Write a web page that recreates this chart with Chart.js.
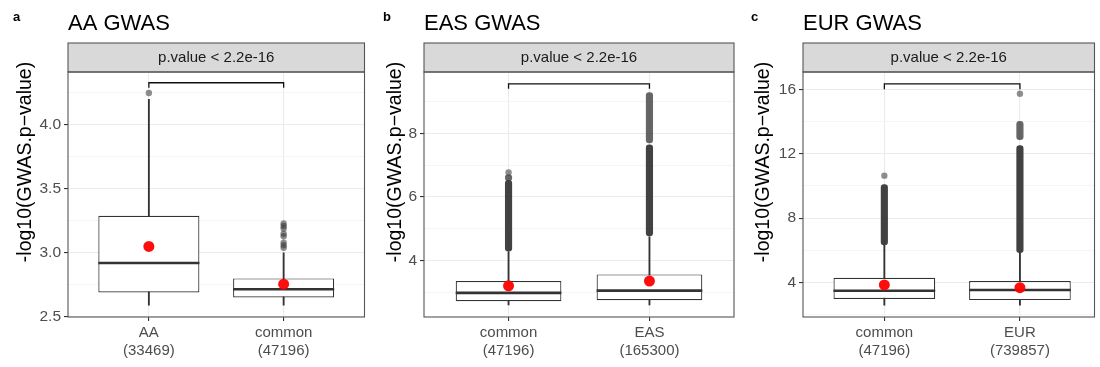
<!DOCTYPE html>
<html>
<head>
<meta charset="utf-8">
<script src="https://cdn.jsdelivr.net/npm/chart.js@4"></script>
<style>
  body { margin: 0; background: #fff; }
  .wrap { position: relative; width: 1100px; height: 367px; }
  canvas { position: absolute; top: 0; }
</style>
</head>
<body>
<div class="wrap">
  <canvas id="chartA" width="370" height="367" style="left:0"></canvas>
  <canvas id="chartB" width="370" height="367" style="left:370px"></canvas>
  <canvas id="chartC" width="360" height="367" style="left:740px"></canvas>
</div>
<script>
// ---- panel a : AA GWAS
const catsA = ['AA', 'common'];
const countsA = ['(33469)', '(47196)'];
const q1A = [2.69, 2.65];
const medA = [2.92, 2.715];
const q3A = [3.29, 2.80];
const meanA = [3.05, 2.755];
const loA = [2.59, 2.59];
const hiA = [4.20, 3.00];
const bandsA = [];
const fadedA = [];
const outA = [[1, 4.25], [2, 3.04], [2, 3.06], [2, 3.08], [2, 3.13], [2, 3.15], [2, 3.19], [2, 3.21], [2, 3.23]];
const bracketA = [4.29, 4.33];
const yMajorA = [2.5, 3.0, 3.5, 4.0];
const yLabelsA = ['2.5', '3.0', '3.5', '4.0'];
const yMinorA = [2.75, 3.25, 3.75, 4.25];

// ---- panel b : EAS GWAS
const catsB = ['common', 'EAS'];
const countsB = ['(47196)', '(165300)'];
const q1B = [2.73, 2.76];
const medB = [2.99, 3.06];
const q3B = [3.36, 3.57];
const meanB = [3.21, 3.36];
const loB = [2.61, 2.61];
const hiB = [4.28, 4.75];
const bandsB = [[1, 4.30, 6.52], [2, 4.78, 7.64]];
const fadedB = [[1, 6.52, 6.70], [2, 7.70, 9.28]];
const outB = [[1, 6.77]];
const bracketB = [9.40, 9.55];
const yMajorB = [4, 6, 8];
const yLabelsB = ['4', '6', '8'];
const yMinorB = [3, 5, 7, 9];

// ---- panel c : EUR GWAS
const catsC = ['common', 'EUR'];
const countsC = ['(47196)', '(739857)'];
const q1C = [2.99, 2.92];
const medC = [3.50, 3.55];
const q3C = [4.31, 4.10];
const meanC = [3.86, 3.69];
const loC = [2.61, 2.61];
const hiC = [6.32, 5.85];
const bandsC = [[1, 6.34, 10.08], [2, 5.87, 12.50]];
const fadedC = [[2, 12.87, 14.01]];
const outC = [[1, 10.64], [2, 15.72]];
const bracketC = [16.0, 16.33];
const yMajorC = [4, 8, 12, 16];
const yLabelsC = ['4', '8', '12', '16'];
const yMinorC = [2, 6, 10, 14];

const FONT = '"Liberation Sans", Arial, Helvetica, sans-serif';
const BOX_FRAC = 0.75;

// strip, panel border, titles
const panelDecor = {
  id: 'panelDecor',
  afterDraw(chart, args, o) {
    const { ctx, chartArea: a } = chart;
    ctx.save();
    ctx.fillStyle = '#d9d9d9';
    ctx.fillRect(a.left, 43, a.right - a.left, a.top - 43);
    ctx.strokeStyle = '#555';
    ctx.lineWidth = 1.1;
    ctx.strokeRect(a.left, 43, a.right - a.left, a.top - 43);
    ctx.strokeRect(a.left, a.top, a.right - a.left, a.bottom - a.top);

    ctx.fillStyle = '#1a1a1a';
    ctx.font = '15px ' + FONT;
    ctx.textAlign = 'center';
    ctx.textBaseline = 'middle';
    ctx.fillText(o.strip, (a.left + a.right) / 2, (43 + a.top) / 2 + 0.5);

    ctx.fillStyle = '#000';
    ctx.textAlign = 'left';
    ctx.textBaseline = 'alphabetic';
    ctx.font = 'bold 13px ' + FONT;
    ctx.fillText(o.letter, o.letterX, 21);
    ctx.font = '22px ' + FONT;
    ctx.fillText(o.title, a.left, 29.5);

    ctx.translate(o.yTitleX, 162);
    ctx.rotate(-Math.PI / 2);
    ctx.textAlign = 'center';
    ctx.textBaseline = 'middle';
    ctx.font = '19.5px ' + FONT;
    ctx.fillText('-log10(GWAS.p\u2212value)', 0, 0);
    ctx.restore();
  }
};

function halfBox(chart) {
  const x = chart.scales.x;
  return (x.getPixelForValue(1 + BOX_FRAC / 2) - x.getPixelForValue(1));
}

function drawPanel(id, p) {
  const seg = s => ({ x: s[0], y: [s[1], s[2]] });
  const datasets = [
    {
      type: 'line', order: 9,
      data: [{ x: 1, y: p.bracket[0] }, { x: 1, y: p.bracket[1] }, { x: 2, y: p.bracket[1] }, { x: 2, y: p.bracket[0] }],
      borderColor: '#111', borderWidth: 1.3, pointRadius: 0, tension: 0
    },
    {
      type: 'bar', order: 8, grouped: false, barThickness: 1.2,
      data: p.lo.map((v, i) => ({ x: i + 1, y: [v, p.hi[i]] })),
      backgroundColor: '#333'
    },
    {
      type: 'bar', order: 7, grouped: false, barThickness: 6.5,
      data: p.faded.map(seg),
      backgroundColor: 'rgba(51,51,51,0.75)', borderRadius: 3.2, borderSkipped: false
    },
    {
      type: 'bar', order: 6, grouped: false, barThickness: 6.5,
      data: p.bands.map(seg),
      backgroundColor: 'rgba(45,45,45,0.9)', borderRadius: 3.2, borderSkipped: false
    },
    {
      type: 'scatter', order: 5,
      data: p.out.map(o => ({ x: o[0], y: o[1] })),
      pointRadius: 3.2, pointBackgroundColor: 'rgba(51,51,51,0.55)', pointBorderWidth: 0
    },
    {
      type: 'bar', order: 4, grouped: false,
      barPercentage: BOX_FRAC, categoryPercentage: 1,
      data: p.q1.map((v, i) => ({ x: i + 1, y: [v, p.q3[i]] })),
      backgroundColor: '#fff', borderColor: '#333', borderWidth: 1.2, borderSkipped: false
    },
    {
      type: 'scatter', order: 3,
      data: p.med.map((v, i) => ({ x: i + 1, y: v })),
      pointStyle: 'line', pointRadius: c => halfBox(c.chart),
      pointBorderColor: '#333', pointBorderWidth: 2.6
    },
    {
      type: 'scatter', order: 1,
      data: p.mean.map((v, i) => ({ x: i + 1, y: v })),
      pointRadius: 5.5, pointBackgroundColor: 'rgba(255,0,0,0.95)', pointBorderWidth: 0
    }
  ];

  new Chart(document.getElementById(id), {
    type: 'bar',
    data: { datasets },
    options: {
      responsive: false,
      animation: false,
      events: [],
      layout: { padding: { left: 0, right: p.padRight, top: 72, bottom: 0 } },
      plugins: {
        legend: { display: false },
        tooltip: { enabled: false },
        panelDecor: p.decor
      },
      scales: {
        x: {
          type: 'linear', offset: false,
          min: 0.4, max: p.xMax,
          afterBuildTicks: s => { s.ticks = [{ value: 1 }, { value: 2 }]; },
          afterFit: s => { s.height = 50; },
          grid: { color: '#ebebeb', lineWidth: 1.1, tickColor: '#333', tickLength: 4, offset: false },
          border: { display: false },
          ticks: {
            autoSkip: false, maxRotation: 0, padding: 3,
            color: '#4d4d4d', font: { family: FONT, size: 15, lineHeight: 1.2 },
            callback: v => [p.cats[v - 1], p.counts[v - 1]]
          }
        },
        y: {
          type: 'linear',
          min: p.yRange[0], max: p.yRange[1],
          afterBuildTicks: s => {
            s.ticks = p.yMajor.concat(p.yMinor).sort((a, b) => a - b).map(v => ({ value: v }));
          },
          afterFit: s => { s.width = p.yWidth; },
          grid: {
            color: c => p.yMinor.includes(c.tick.value) ? '#f3f3f3' : '#ebebeb',
            lineWidth: c => p.yMinor.includes(c.tick.value) ? 0.8 : 1.1,
            tickColor: c => p.yMinor.includes(c.tick.value) ? 'rgba(0,0,0,0)' : '#333',
            tickLength: 4
          },
          border: { display: false },
          ticks: {
            autoSkip: false, padding: 3,
            color: '#4d4d4d', font: { family: FONT, size: 15.5 },
            callback: v => {
              const i = p.yMajor.indexOf(v);
              return i < 0 ? '' : p.yLabels[i];
            }
          }
        }
      }
    },
    plugins: [panelDecor]
  });
}

drawPanel('chartA', {
  cats: catsA, counts: countsA, q1: q1A, med: medA, q3: q3A, mean: meanA, lo: loA, hi: hiA,
  bands: bandsA, faded: fadedA, out: outA, bracket: bracketA,
  yMajor: yMajorA, yLabels: yLabelsA, yMinor: yMinorA, yRange: [2.498, 4.414],
  yWidth: 68, padRight: 5, xMax: 2.6,
  decor: { letter: 'a', letterX: 13, title: 'AA GWAS', strip: 'p.value < 2.2e-16', yTitleX: 26 }
});

drawPanel('chartB', {
  cats: catsB, counts: countsB, q1: q1B, med: medB, q3: q3B, mean: meanB, lo: loB, hi: hiB,
  bands: bandsB, faded: fadedB, out: outB, bracket: bracketB,
  yMajor: yMajorB, yLabels: yLabelsB, yMinor: yMinorB, yRange: [2.232, 9.925],
  yWidth: 54, padRight: 6, xMax: 2.6,
  decor: { letter: 'b', letterX: 13, title: 'EAS GWAS', strip: 'p.value < 2.2e-16', yTitleX: 26 }
});

drawPanel('chartC', {
  cats: catsC, counts: countsC, q1: q1C, med: medC, q3: q3C, mean: meanC, lo: loC, hi: hiC,
  bands: bandsC, faded: fadedC, out: outC, bracket: bracketC,
  yMajor: yMajorC, yLabels: yLabelsC, yMinor: yMinorC, yRange: [1.872, 17.07],
  yWidth: 63, padRight: 3, xMax: 2.55,
  decor: { letter: 'c', letterX: 11, title: 'EUR GWAS', strip: 'p.value < 2.2e-16', yTitleX: 24 }
});
</script>
</body>
</html>
